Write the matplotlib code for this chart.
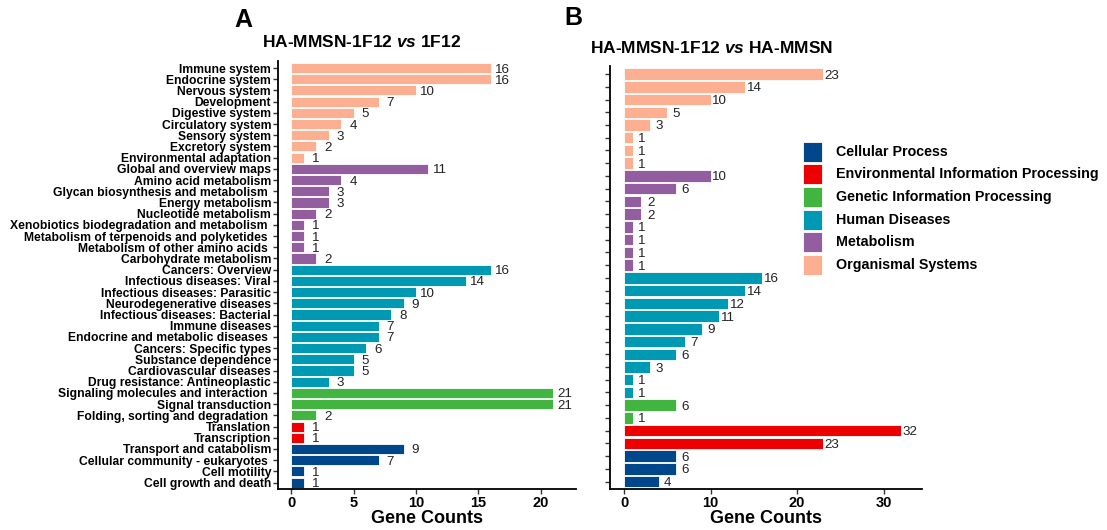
import matplotlib
matplotlib.use("Agg")
import matplotlib.pyplot as plt
from matplotlib.patches import Rectangle

plt.rcParams['font.family'] = ['Liberation Sans', 'DejaVu Sans']
plt.rcParams['mathtext.fontset'] = 'custom'
plt.rcParams['mathtext.rm'] = 'Liberation Sans'
plt.rcParams['mathtext.bf'] = 'Liberation Sans:bold'
plt.rcParams['mathtext.it'] = 'Liberation Sans:italic'
plt.rcParams['mathtext.bfit'] = 'Liberation Sans:bold:italic'

# ---------------- data ----------------
group_names = ["Cellular Process", "Environmental Information Processing",
               "Genetic Information Processing", "Human Diseases",
               "Metabolism", "Organismal Systems"]
group_colors = ["#00468B", "#ED0000", "#42B540", "#0099B4", "#925E9F", "#FDAF91"]

# Panel A (top to bottom)
a_terms = [
    "Immune system", "Endocrine system", "Nervous system", "Development",
    "Digestive system", "Circulatory system", "Sensory system", "Excretory system",
    "Environmental adaptation",
    "Global and overview maps", "Amino acid metabolism",
    "Glycan biosynthesis and metabolism ", "Energy metabolism",
    "Nucleotide metabolism", "Xenobiotics biodegradation and metabolism ",
    "Metabolism of terpenoids and polyketides ", "Metabolism of other amino acids ",
    "Carbohydrate metabolism",
    "Cancers: Overview", "Infectious diseases: Viral", "Infectious diseases: Parasitic",
    "Neurodegenerative diseases", "Infectious diseases: Bacterial", "Immune diseases",
    "Endocrine and metabolic diseases ", "Cancers: Specific types",
    "Substance dependence", "Cardiovascular diseases", "Drug resistance: Antineoplastic",
    "Signaling molecules and interaction ", "Signal transduction",
    "Folding, sorting and degradation ",
    "Translation", "Transcription",
    "Transport and catabolism", "Cellular community - eukaryotes ",
    "Cell motility", "Cell growth and death",
]
a_counts = [16, 16, 10, 7, 5, 4, 3, 2, 1,
            11, 4, 3, 3, 2, 1, 1, 1, 2,
            16, 14, 10, 9, 8, 7, 7, 6, 5, 5, 3,
            21, 21, 2,
            1, 1,
            9, 7, 1, 1]
a_groups = (["Organismal Systems"] * 9 + ["Metabolism"] * 9 + ["Human Diseases"] * 11
            + ["Genetic Information Processing"] * 3
            + ["Environmental Information Processing"] * 2
            + ["Cellular Process"] * 4)

# Panel B (top to bottom)
b_counts = [23, 14, 10, 5, 3, 1, 1, 1,
            10, 6, 2, 2, 1, 1, 1, 1,
            16, 14, 12, 11, 9, 7, 6, 3, 1, 1,
            6, 1,
            32, 23,
            6, 6, 4]
b_groups = (["Organismal Systems"] * 8 + ["Metabolism"] * 8 + ["Human Diseases"] * 10
            + ["Genetic Information Processing"] * 2
            + ["Environmental Information Processing"] * 2
            + ["Cellular Process"] * 3)

a_xticks = [0, 5, 10, 15, 20]
b_xticks = [0, 10, 20, 30]

cmap = dict(zip(group_names, group_colors))

# ---------------- figure ----------------
fig = plt.figure(figsize=(11.07, 5.30), dpi=100)
W, H = 1107, 530


def ax_rect(x0, x1, ytop, ybot):
    return [x0 / W, 1 - ybot / H, (x1 - x0) / W, (ybot - ytop) / H]


def draw_panel(ax, counts, groups, labels, xlim, xticks, lab_off):
    n = len(counts)
    ys = list(range(n - 1, -1, -1))
    cols = [cmap[g] for g in groups]
    ax.barh(ys, counts, height=0.9, color=cols, edgecolor="white", linewidth=0.6)
    for y, v in zip(ys, counts):
        ax.text(v + lab_off, y, str(v), ha="center", va="center_baseline",
                fontsize=9.6, color="#222222")
    ax.set_ylim(-0.6, n - 0.4)
    ax.set_xlim(*xlim)
    ax.set_yticks(ys)
    ax.set_yticklabels(labels if labels is not None else [""] * n,
                       fontsize=8.7, fontweight="bold", color="black")
    ax.set_xticks(xticks)
    ax.set_xticklabels([str(t) for t in xticks], fontsize=10.5, fontweight="bold",
                       color="black")
    for s in ["top", "right"]:
        ax.spines[s].set_visible(False)
    for s in ["left", "bottom"]:
        ax.spines[s].set_linewidth(1.3)
        ax.spines[s].set_color("black")
    ax.tick_params(axis="both", length=3.5, width=1.0, color="#333333", pad=1.5)
    ax.set_xlabel("Gene Counts", fontsize=13, fontweight="bold", labelpad=0)


axA = fig.add_axes(ax_rect(278, 576, 61.3, 489.3))
draw_panel(axA, a_counts, a_groups, a_terms, (-1.07, 22.83), a_xticks, 0.95)

axB = fig.add_axes(ax_rect(610, 922, 66.4, 489.3))
draw_panel(axB, b_counts, b_groups, None, (-1.62, 34.45), b_xticks, 1.07)

# Panel letters and titles
fig.text(243 / W, 1 - 20 / H, "A", fontsize=18, fontweight="bold", ha="center",
         va="center")
fig.text(362 / W, 1 - 42 / H, r"HA-MMSN-1F12 $\bfit{vs}$ 1F12", fontsize=12.5,
         fontweight="bold", ha="center", va="center")
fig.text(573 / W, 1 - 18 / H, "B", fontsize=18, fontweight="bold", ha="center",
         va="center")
fig.text(712 / W, 1 - 48 / H, r"HA-MMSN-1F12 $\bfit{vs}$ HA-MMSN", fontsize=12.5,
         fontweight="bold", ha="center", va="center")

# Legend
for i, (name, col) in enumerate(zip(group_names, group_colors)):
    yc = 151.5 + i * 22.7
    fig.patches.append(Rectangle((803 / W, 1 - (yc + 10) / H), 19 / W, 20 / H,
                                 transform=fig.transFigure, facecolor=col,
                                 edgecolor="white", linewidth=0.6))
    fig.text(836 / W, 1 - yc / H, name, fontsize=10.3, fontweight="bold",
             ha="left", va="center")

fig.savefig("out.png", dpi=100)
